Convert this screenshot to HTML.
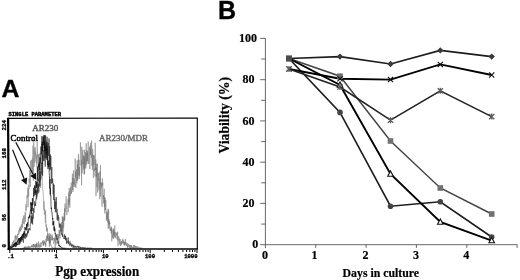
<!DOCTYPE html>
<html><head><meta charset="utf-8"><title>Figure</title>
<style>
html,body{margin:0;padding:0;background:#fff;}
body{width:520px;height:280px;overflow:hidden;}
svg{display:block;}
.se{font-family:"Liberation Serif",serif;}
.sb{font-family:"Liberation Serif",serif;font-weight:bold;}
.sa{font-family:"Liberation Sans",sans-serif;font-weight:bold;}
.mo{font-family:"Liberation Mono",monospace;font-weight:bold;}
</style></head><body>
<svg width="520" height="280" viewBox="0 0 520 280">
<rect width="520" height="280" fill="#fff"/>

<text class="sa" x="1.6" y="97.4" font-size="24.8" fill="#000" stroke="#000" stroke-width="0.35">A</text>
<text class="mo" x="8.5" y="115.9" font-size="6" fill="#000" stroke="#000" stroke-width="0.45" textLength="52.5" lengthAdjust="spacingAndGlyphs">SINGLE PARAMETER</text>
<polyline points="9.0,247.8 9.2,247.9 9.4,247.7 9.6,248.3 9.8,247.2 10.0,246.8 10.2,247.9 10.4,246.8 10.6,246.3 10.8,246.8 11.0,246.1 11.2,245.4 11.4,245.7 11.6,246.3 11.8,246.2 12.0,244.1 12.2,246.6 12.4,242.2 12.6,245.4 12.8,244.5 13.0,242.6 13.2,243.3 13.4,242.2 13.6,240.3 13.8,245.2 14.0,244.7 14.2,241.6 14.4,241.1 14.6,240.8 14.8,239.4 15.0,235.9 15.2,241.9 15.4,240.8 15.6,235.1 15.8,237.8 16.0,235.9 16.2,238.5 16.4,239.9 16.6,236.4 16.8,236.0 17.0,239.2 17.2,236.5 17.4,233.9 17.6,237.2 17.8,235.1 18.0,233.9 18.2,233.9 18.4,235.0 18.6,231.2 18.8,230.4 19.0,230.0 19.2,233.6 19.4,228.8 19.6,231.0 19.8,227.7 20.0,231.1 20.2,226.7 20.4,229.0 20.6,231.7 20.8,228.2 21.0,227.6 21.2,225.3 21.4,230.0 21.6,227.4 21.8,224.0 22.0,226.0 22.2,223.4 22.4,220.7 22.6,228.2 22.8,221.8 23.0,217.8 23.2,222.0 23.4,223.6 23.6,216.3 23.8,217.4 24.0,215.3 24.2,219.1 24.4,224.3 24.6,217.0 24.8,218.3 25.0,212.5 25.2,212.3 25.4,221.5 25.6,216.2 25.8,206.5 26.0,204.4 26.2,210.5 26.4,205.2 26.6,200.8 26.8,198.7 27.0,195.3 27.2,197.7 27.4,198.0 27.6,196.3 27.8,187.8 28.0,207.3 28.2,191.2 28.4,189.0 28.6,196.4 28.8,184.6 29.0,188.7 29.2,178.7 29.4,182.7 29.6,176.6 29.8,170.3 30.0,174.6 30.2,183.9 30.4,186.9 30.6,160.7 30.8,172.7 31.0,176.2 31.2,169.9 31.4,169.9 31.6,159.9 31.8,164.4 32.0,166.5 32.2,170.7 32.4,157.9 32.6,172.1 32.8,155.9 33.0,145.7 33.2,171.6 33.4,180.6 33.6,150.6 33.8,136.3 34.0,163.8 34.2,166.8 34.4,148.3 34.6,162.7 34.8,158.5 35.0,156.4 35.2,147.2 35.4,156.8 35.6,151.6 35.8,154.9 36.0,161.4 36.2,157.3 36.4,163.6 36.6,154.7 36.8,166.7 37.0,165.1 37.2,142.0 37.4,157.6 37.6,157.0 37.8,154.2 38.0,162.7 38.2,161.6 38.4,154.5 38.6,159.4 38.8,171.0 39.0,154.0 39.2,167.8 39.4,172.1 39.6,173.4 39.8,171.1 40.0,152.9 40.2,178.6 40.4,168.0 40.6,188.0 40.8,170.2 41.0,164.3 41.2,176.0 41.4,179.2 41.6,174.9 41.8,173.3 42.0,175.1 42.2,167.9 42.4,181.1 42.6,189.4 42.8,189.6 43.0,190.9 43.2,193.9 43.4,196.7 43.6,198.2 43.8,209.7 44.0,201.3 44.2,208.5 44.4,214.6 44.6,209.0 44.8,208.9 45.0,213.6 45.2,216.7 45.4,223.1 45.6,210.8 45.8,219.0 46.0,227.3 46.2,226.0 46.4,224.4 46.6,231.1 46.8,227.8 47.0,231.6 47.2,227.8 47.4,228.9 47.6,237.9 47.8,233.2 48.0,238.8 48.2,233.6 48.4,237.0 48.6,237.6 48.8,241.1 49.0,236.7 49.2,235.7 49.4,242.6 49.6,239.8 49.8,241.6 50.0,242.5 50.2,243.4 50.4,240.6 50.6,245.5 50.8,244.6 51.0,244.5 51.2,246.1 51.4,246.0 51.6,246.3 51.8,246.1 52.0,247.8 52.2,247.1 52.4,247.7 52.6,247.5 52.8,247.6 53.0,248.1 53.2,248.1 53.4,248.0 53.6,248.2 53.8,248.2 54.0,248.0 54.2,248.1 54.4,247.8 54.6,248.2 54.8,248.1 55.0,248.1 55.2,248.0 55.4,248.0 55.6,248.1 55.8,247.9 56.0,248.3 56.2,247.9 56.4,248.2 56.6,247.9 56.8,248.2 57.0,247.9 57.2,248.2 57.4,248.1 57.6,248.2 57.8,248.2 58.0,247.9 58.2,248.3 58.4,248.2 58.6,248.1 58.8,248.2 59.0,248.3 59.2,248.0 59.4,248.0 59.6,248.1 59.8,248.2 60.0,247.8" fill="none" stroke="#8a8a8a" stroke-width="0.6" stroke-linejoin="miter"/>
<polyline points="10.0,248.3 10.2,248.3 10.4,247.9 10.6,248.3 10.8,247.3 11.0,247.4 11.2,247.8 11.4,247.0 11.6,247.5 11.8,247.5 12.0,246.6 12.2,247.4 12.4,247.2 12.6,247.7 12.8,246.7 13.0,246.6 13.2,246.0 13.4,247.1 13.6,244.9 13.8,247.0 14.0,245.4 14.2,245.8 14.4,245.7 14.6,244.6 14.8,246.5 15.0,243.9 15.2,242.8 15.4,247.1 15.6,245.8 15.8,246.5 16.0,242.3 16.2,244.6 16.4,244.0 16.6,244.7 16.8,244.7 17.0,244.1 17.2,244.6 17.4,243.6 17.6,245.2 17.8,244.0 18.0,242.2 18.2,242.3 18.4,244.2 18.6,244.7 18.8,244.3 19.0,242.3 19.2,243.3 19.4,240.5 19.6,244.6 19.8,241.1 20.0,240.4 20.2,243.3 20.4,241.5 20.6,239.6 20.8,241.6 21.0,239.3 21.2,237.4 21.4,240.4 21.6,241.5 21.8,240.3 22.0,239.0 22.2,238.2 22.4,240.2 22.6,238.9 22.8,238.4 23.0,240.3 23.2,240.5 23.4,242.7 23.6,236.5 23.8,237.8 24.0,235.4 24.2,237.3 24.4,238.0 24.6,235.9 24.8,237.0 25.0,239.1 25.2,238.8 25.4,233.8 25.6,235.9 25.8,234.9 26.0,236.5 26.2,237.5 26.4,233.4 26.6,235.8 26.8,236.7 27.0,234.7 27.2,235.2 27.4,234.3 27.6,231.1 27.8,233.7 28.0,228.8 28.2,232.9 28.4,230.4 28.6,230.9 28.8,230.1 29.0,228.2 29.2,228.8 29.4,229.6 29.6,228.5 29.8,228.9 30.0,230.3 30.2,226.7 30.4,223.1 30.6,221.8 30.8,221.9 31.0,216.6 31.2,220.0 31.4,222.2 31.6,215.3 31.8,223.5 32.0,217.3 32.2,221.4 32.4,216.7 32.6,224.4 32.8,213.1 33.0,216.0 33.2,218.6 33.4,208.2 33.6,210.0 33.8,210.9 34.0,212.8 34.2,209.9 34.4,207.3 34.6,203.4 34.8,201.3 35.0,206.0 35.2,205.2 35.4,203.7 35.6,205.8 35.8,201.4 36.0,198.5 36.2,194.2 36.4,189.8 36.6,199.3 36.8,191.7 37.0,196.4 37.2,181.7 37.4,191.9 37.6,187.8 37.8,193.8 38.0,192.0 38.2,184.8 38.4,187.9 38.6,183.9 38.8,192.5 39.0,179.7 39.2,186.7 39.4,171.1 39.6,181.5 39.8,172.0 40.0,185.8 40.2,174.3 40.4,180.5 40.6,176.5 40.8,171.3 41.0,173.2 41.2,168.3 41.4,163.3 41.6,162.7 41.8,165.8 42.0,174.1 42.2,169.4 42.4,163.2 42.6,175.7 42.8,155.0 43.0,160.7 43.2,160.7 43.4,149.7 43.6,150.8 43.8,152.6 44.0,161.1 44.2,150.2 44.4,149.3 44.6,158.2 44.8,142.5 45.0,146.8 45.2,166.6 45.4,147.8 45.6,158.4 45.8,139.5 46.0,141.0 46.2,158.1 46.4,156.4 46.6,147.6 46.8,149.5 47.0,136.7 47.2,143.1 47.4,150.0 47.6,145.2 47.8,165.0 48.0,146.2 48.2,143.0 48.4,152.1 48.6,155.8 48.8,148.8 49.0,138.5 49.2,153.0 49.4,164.3 49.6,146.1 49.8,170.2 50.0,154.1 50.2,165.2 50.4,155.5 50.6,169.3 50.8,156.1 51.0,166.2 51.2,180.6 51.4,183.6 51.6,174.9 51.8,167.1 52.0,177.8 52.2,178.2 52.4,183.1 52.6,178.6 52.8,181.6 53.0,185.6 53.2,194.4 53.4,183.7 53.6,185.2 53.8,200.0 54.0,184.8 54.2,192.3 54.4,200.7 54.6,209.0 54.8,198.9 55.0,201.4 55.2,206.2 55.4,212.2 55.6,201.8 55.8,208.4 56.0,209.5 56.2,197.0 56.4,200.4 56.6,206.7 56.8,212.8 57.0,209.2 57.2,219.9 57.4,213.0 57.6,216.7 57.8,219.4 58.0,220.9 58.2,215.0 58.4,218.1 58.6,218.8 58.8,217.5 59.0,223.8 59.2,225.4 59.4,227.5 59.6,224.9 59.8,223.4 60.0,226.8 60.2,224.1 60.4,229.7 60.6,229.8 60.8,231.0 61.0,231.1 61.2,225.1 61.4,228.9 61.6,232.4 61.8,234.6 62.0,232.7 62.2,235.4 62.4,233.7 62.6,236.8 62.8,234.6 63.0,236.0 63.2,236.4 63.4,237.8 63.6,237.9 63.8,238.4 64.0,238.9 64.2,237.7 64.4,237.6 64.6,234.4 64.8,236.5 65.0,239.0 65.2,235.8 65.4,239.9 65.6,236.3 65.8,237.7 66.0,240.7 66.2,238.2 66.4,238.1 66.6,243.6 66.8,241.9 67.0,241.1 67.2,243.2 67.4,242.3 67.6,242.1 67.8,240.9 68.0,240.3 68.2,237.5 68.4,243.7 68.6,240.8 68.8,242.7 69.0,243.8 69.2,243.8 69.4,245.5 69.6,244.3 69.8,243.1 70.0,241.5 70.2,242.6 70.4,243.5 70.6,244.8 70.8,243.3 71.0,243.6 71.2,246.0 71.4,245.3 71.6,246.7 71.8,244.5 72.0,245.3 72.2,246.0 72.4,245.3 72.6,244.6 72.8,247.3 73.0,247.0 73.2,247.3 73.4,247.6 73.6,246.5 73.8,244.9 74.0,247.6 74.2,246.6 74.4,246.3 74.6,247.3 74.8,247.2 75.0,246.8 75.2,246.0 75.4,247.3 75.6,246.5 75.8,246.5 76.0,247.7 76.2,247.5 76.4,247.6 76.6,246.5 76.8,246.9 77.0,246.4 77.2,247.2 77.4,246.9 77.6,246.9 77.8,247.2 78.0,245.9 78.2,246.9 78.4,247.6 78.6,248.1 78.8,246.5 79.0,247.4 79.2,247.0 79.4,247.2 79.6,246.6 79.8,246.9 80.0,247.5 80.2,247.2 80.4,247.0 80.6,248.3 80.8,247.3 81.0,247.1 81.2,247.2 81.4,247.4 81.6,247.5 81.8,248.1 82.0,247.5 82.2,247.8 82.4,247.7 82.6,247.8 82.8,247.8 83.0,247.4 83.2,248.1 83.4,247.6 83.6,248.3 83.8,248.3 84.0,247.8 84.2,247.7 84.4,247.7 84.6,248.3 84.8,248.0 85.0,247.9 85.2,247.5 85.4,248.0 85.6,247.9 85.8,248.2 86.0,247.9 86.2,248.2 86.4,248.2 86.6,248.2 86.8,248.1 87.0,248.3 87.2,248.3 87.4,248.0 87.6,247.7 87.8,248.2 88.0,247.9 88.2,248.0 88.4,248.3 88.6,248.2 88.8,248.0 89.0,248.1 89.2,248.3 89.4,248.2 89.6,248.0 89.8,247.9 90.0,248.2 90.2,248.1 90.4,248.2 90.6,248.0 90.8,247.9 91.0,248.1 91.2,248.1 91.4,248.2 91.6,248.0 91.8,248.2 92.0,248.1" fill="none" stroke="#333" stroke-width="0.65" stroke-linejoin="miter"/>
<polyline points="9.0,248.2 9.2,248.2 9.4,248.1 9.6,248.1 9.8,248.1 10.0,247.9 10.2,248.0 10.4,247.7 10.6,247.4 10.8,245.9 11.0,246.8 11.2,247.2 11.4,247.7 11.6,247.3 11.8,247.2 12.0,247.2 12.2,246.7 12.4,246.3 12.6,245.9 12.8,247.0 13.0,246.3 13.2,244.4 13.4,245.5 13.6,245.2 13.8,244.4 14.0,244.6 14.2,244.0 14.4,245.6 14.6,244.6 14.8,242.8 15.0,244.6 15.2,243.7 15.4,243.1 15.6,242.7 15.8,243.4 16.0,242.6 16.2,246.3 16.4,242.5 16.6,243.7 16.8,244.6 17.0,242.3 17.2,240.6 17.4,242.1 17.6,240.8 17.8,240.6 18.0,241.4 18.2,238.7 18.4,239.5 18.6,240.5 18.8,238.1 19.0,240.6 19.2,242.7 19.4,238.3 19.6,238.9 19.8,238.4 20.0,240.2 20.2,239.0 20.4,240.8 20.6,237.9 20.8,237.1 21.0,239.2 21.2,237.4 21.4,238.7 21.6,235.9 21.8,239.4 22.0,238.5 22.2,235.0 22.4,234.1 22.6,237.9 22.8,236.7 23.0,235.6 23.2,235.9 23.4,232.8 23.6,236.5 23.8,233.6 24.0,234.8 24.2,231.1 24.4,232.8 24.6,234.4 24.8,235.4 25.0,227.0 25.2,229.6 25.4,229.1 25.6,228.1 25.8,228.0 26.0,229.8 26.2,230.4 26.4,228.8 26.6,223.9 26.8,229.3 27.0,227.7 27.2,224.9 27.4,223.7 27.6,222.4 27.8,226.3 28.0,226.6 28.2,220.9 28.4,217.6 28.6,217.2 28.8,218.2 29.0,218.4 29.2,216.2 29.4,217.5 29.6,214.8 29.8,217.2 30.0,213.2 30.2,213.4 30.4,210.2 30.6,210.9 30.8,202.3 31.0,205.0 31.2,202.6 31.4,214.4 31.6,208.1 31.8,208.6 32.0,202.9 32.2,211.2 32.4,198.2 32.6,198.3 32.8,205.1 33.0,202.9 33.2,201.7 33.4,197.7 33.6,194.2 33.8,187.9 34.0,196.1 34.2,192.1 34.4,192.5 34.6,185.5 34.8,187.9 35.0,186.7 35.2,195.0 35.4,190.1 35.6,192.9 35.8,180.9 36.0,183.7 36.2,187.5 36.4,188.0 36.6,182.4 36.8,186.7 37.0,186.8 37.2,178.7 37.4,166.6 37.6,178.8 37.8,178.2 38.0,181.1 38.2,180.6 38.4,167.3 38.6,164.2 38.8,167.1 39.0,162.9 39.2,162.7 39.4,162.2 39.6,170.4 39.8,163.8 40.0,157.4 40.2,163.4 40.4,159.9 40.6,159.8 40.8,155.9 41.0,146.5 41.2,154.5 41.4,151.6 41.6,144.4 41.8,145.0 42.0,136.1 42.2,164.0 42.4,141.8 42.6,151.1 42.8,144.9 43.0,139.2 43.2,137.3 43.4,138.5 43.6,145.2 43.8,135.3 44.0,148.7 44.2,147.0 44.4,140.2 44.6,151.1 44.8,135.3 45.0,139.4 45.2,135.3 45.4,145.6 45.6,150.4 45.8,147.3 46.0,145.6 46.2,154.6 46.4,148.8 46.6,153.3 46.8,141.9 47.0,160.0 47.2,148.5 47.4,160.7 47.6,165.1 47.8,164.1 48.0,168.9 48.2,163.9 48.4,160.6 48.6,166.7 48.8,166.4 49.0,163.5 49.2,172.9 49.4,175.4 49.6,180.1 49.8,188.5 50.0,179.0 50.2,194.6 50.4,188.1 50.6,195.9 50.8,195.6 51.0,204.4 51.2,209.0 51.4,207.7 51.6,211.0 51.8,211.8 52.0,211.8 52.2,214.8 52.4,216.2 52.6,219.4 52.8,218.0 53.0,225.3 53.2,221.6 53.4,225.0 53.6,221.1 53.8,221.7 54.0,230.4 54.2,226.4 54.4,226.9 54.6,231.1 54.8,228.5 55.0,231.5 55.2,234.3 55.4,233.5 55.6,233.9 55.8,233.9 56.0,236.7 56.2,234.8 56.4,235.7 56.6,239.4 56.8,238.5 57.0,237.9 57.2,239.9 57.4,237.9 57.6,240.4 57.8,243.3 58.0,243.3 58.2,243.3 58.4,241.6 58.6,244.7 58.8,245.9 59.0,245.2 59.2,245.4 59.4,245.1 59.6,246.5 59.8,246.0 60.0,246.3 60.2,246.9 60.4,247.0 60.6,246.4 60.8,247.0 61.0,247.3 61.2,247.9 61.4,247.9 61.6,247.5 61.8,247.7 62.0,247.9 62.2,248.1 62.4,247.7 62.6,248.3 62.8,248.3 63.0,248.1 63.2,248.1 63.4,248.2 63.6,247.9 63.8,247.9 64.0,248.3 64.2,248.0 64.4,248.1 64.6,248.2 64.8,248.0 65.0,248.1 65.2,247.9 65.4,248.0 65.6,248.3 65.8,248.1 66.0,247.9" fill="none" stroke="#0c0c0c" stroke-width="0.65" stroke-linejoin="miter"/>
<polyline points="22.0,248.1 22.2,247.9 22.4,247.9 22.6,248.1 22.8,248.3 23.0,248.0 23.2,248.3 23.4,248.0 23.6,248.1 23.8,247.9 24.0,247.9 24.2,247.0 24.4,248.0 24.6,247.4 24.8,248.3 25.0,246.2 25.2,248.3 25.4,247.1 25.6,247.6 25.8,248.3 26.0,248.1 26.2,248.1 26.4,247.0 26.6,247.6 26.8,246.5 27.0,248.3 27.2,248.1 27.4,248.3 27.6,246.8 27.8,248.3 28.0,247.7 28.2,247.2 28.4,248.3 28.6,246.5 28.8,247.2 29.0,245.9 29.2,246.6 29.4,248.2 29.6,248.3 29.8,247.3 30.0,246.1 30.2,246.5 30.4,248.0 30.6,247.6 30.8,247.5 31.0,247.1 31.2,247.1 31.4,247.4 31.6,244.9 31.8,246.9 32.0,246.3 32.2,245.8 32.4,247.0 32.6,247.2 32.8,246.6 33.0,244.4 33.2,248.3 33.4,244.0 33.6,246.5 33.8,245.9 34.0,243.9 34.2,245.8 34.4,244.8 34.6,247.2 34.8,246.8 35.0,245.9 35.2,247.8 35.4,244.2 35.6,246.9 35.8,248.3 36.0,244.0 36.2,245.9 36.4,247.3 36.6,243.6 36.8,246.8 37.0,242.4 37.2,246.1 37.4,245.0 37.6,247.7 37.8,248.3 38.0,247.5 38.2,245.0 38.4,244.1 38.6,241.5 38.8,247.1 39.0,243.5 39.2,245.4 39.4,246.3 39.6,245.5 39.8,248.3 40.0,246.8 40.2,246.3 40.4,245.6 40.6,246.5 40.8,242.3 41.0,247.0 41.2,244.7 41.4,243.1 41.6,243.6 41.8,244.0 42.0,243.9 42.2,243.1 42.4,240.6 42.6,241.5 42.8,243.3 43.0,241.3 43.2,245.9 43.4,242.8 43.6,245.4 43.8,240.0 44.0,244.6 44.2,243.6 44.4,241.2 44.6,242.8 44.8,242.8 45.0,242.1 45.2,244.0 45.4,245.4 45.6,242.8 45.8,246.8 46.0,238.5 46.2,242.4 46.4,242.1 46.6,235.7 46.8,235.5 47.0,241.0 47.2,240.7 47.4,237.0 47.6,236.1 47.8,240.7 48.0,239.9 48.2,238.3 48.4,238.8 48.6,238.3 48.8,239.0 49.0,241.7 49.2,242.2 49.4,246.9 49.6,238.9 49.8,233.2 50.0,243.7 50.2,235.2 50.4,234.4 50.6,238.8 50.8,240.8 51.0,237.3 51.2,240.1 51.4,237.5 51.6,237.1 51.8,235.4 52.0,234.5 52.2,240.0 52.4,235.6 52.6,240.4 52.8,238.6 53.0,238.4 53.2,238.1 53.4,238.8 53.6,237.9 53.8,243.8 54.0,241.8 54.2,240.9 54.4,238.7 54.6,240.5 54.8,237.3 55.0,239.6 55.2,248.3 55.4,243.4 55.6,236.3 55.8,241.1 56.0,242.1 56.2,244.5 56.4,236.5 56.6,236.2 56.8,237.1 57.0,239.7 57.2,233.9 57.4,235.2 57.6,241.8 57.8,236.1 58.0,238.4 58.2,238.2 58.4,234.4 58.6,235.6 58.8,245.4 59.0,229.8 59.2,231.8 59.4,234.5 59.6,235.8 59.8,230.5 60.0,238.3 60.2,229.7 60.4,230.9 60.6,232.4 60.8,232.5 61.0,231.8 61.2,223.8 61.4,222.1 61.6,224.3 61.8,225.3 62.0,231.3 62.2,220.7 62.4,216.2 62.6,232.1 62.8,216.9 63.0,233.2 63.2,223.1 63.4,217.8 63.6,227.9 63.8,225.4 64.0,216.4 64.2,213.1 64.4,221.1 64.6,208.3 64.8,220.0 65.0,203.5 65.2,212.3 65.4,209.7 65.6,208.5 65.8,208.7 66.0,199.6 66.2,196.4 66.4,204.2 66.6,209.4 66.8,215.1 67.0,211.9 67.2,205.6 67.4,205.3 67.6,204.8 67.8,204.7 68.0,199.3 68.2,212.1 68.4,208.7 68.6,192.7 68.8,194.0 69.0,205.3 69.2,188.1 69.4,202.2 69.6,197.6 69.8,207.7 70.0,191.0 70.2,196.2 70.4,187.0 70.6,188.3 70.8,193.5 71.0,192.1 71.2,182.5 71.4,193.8 71.6,192.1 71.8,189.0 72.0,183.9 72.2,181.4 72.4,173.8 72.6,189.9 72.8,177.9 73.0,191.9 73.2,181.5 73.4,184.2 73.6,170.4 73.8,178.8 74.0,186.8 74.2,178.4 74.4,179.4 74.6,184.3 74.8,183.7 75.0,186.7 75.2,158.4 75.4,177.6 75.6,171.6 75.8,188.0 76.0,185.4 76.2,178.0 76.4,175.8 76.6,169.2 76.8,183.4 77.0,169.8 77.2,160.2 77.4,180.9 77.6,164.5 77.8,179.8 78.0,166.8 78.2,166.9 78.4,154.1 78.6,175.4 78.8,167.5 79.0,159.7 79.2,178.9 79.4,167.1 79.6,176.3 79.8,172.1 80.0,160.2 80.2,160.1 80.4,142.4 80.6,151.8 80.8,152.5 81.0,165.5 81.2,165.1 81.4,160.2 81.6,185.3 81.8,146.7 82.0,169.4 82.2,173.2 82.4,166.5 82.6,152.4 82.8,149.8 83.0,164.7 83.2,155.2 83.4,160.4 83.6,169.5 83.8,156.6 84.0,158.9 84.2,174.5 84.4,149.8 84.6,174.1 84.8,156.3 85.0,167.6 85.2,165.2 85.4,164.6 85.6,152.2 85.8,168.7 86.0,159.1 86.2,143.3 86.4,164.7 86.6,156.9 86.8,150.0 87.0,161.4 87.2,153.0 87.4,161.0 87.6,151.2 87.8,155.6 88.0,163.9 88.2,141.5 88.4,157.7 88.6,158.0 88.8,163.8 89.0,159.9 89.2,158.0 89.4,153.1 89.6,147.3 89.8,169.0 90.0,160.8 90.2,145.5 90.4,155.2 90.6,152.4 90.8,142.8 91.0,153.5 91.2,151.6 91.4,157.9 91.6,140.6 91.8,147.9 92.0,166.0 92.2,154.0 92.4,170.0 92.6,148.8 92.8,151.7 93.0,160.2 93.2,164.7 93.4,178.0 93.6,155.0 93.8,164.9 94.0,163.9 94.2,155.5 94.4,171.1 94.6,169.1 94.8,168.4 95.0,176.6 95.2,142.7 95.4,167.2 95.6,170.0 95.8,159.5 96.0,196.2 96.2,167.8 96.4,168.3 96.6,176.8 96.8,163.7 97.0,187.3 97.2,169.7 97.4,163.7 97.6,192.5 97.8,183.1 98.0,173.8 98.2,172.9 98.4,180.4 98.6,173.6 98.8,172.7 99.0,190.3 99.2,178.6 99.4,189.6 99.6,196.4 99.8,199.3 100.0,171.4 100.2,184.4 100.4,165.2 100.6,196.7 100.8,186.0 101.0,182.1 101.2,187.6 101.4,183.0 101.6,187.6 101.8,193.3 102.0,206.7 102.2,197.1 102.4,178.4 102.6,185.8 102.8,182.8 103.0,196.9 103.2,196.5 103.4,203.5 103.6,195.0 103.8,198.9 104.0,196.8 104.2,188.7 104.4,207.1 104.6,197.3 104.8,213.5 105.0,197.5 105.2,209.9 105.4,208.4 105.6,210.0 105.8,200.0 106.0,211.4 106.2,212.3 106.4,220.8 106.6,211.4 106.8,219.3 107.0,219.1 107.2,215.4 107.4,212.4 107.6,222.4 107.8,216.2 108.0,208.8 108.2,228.8 108.4,212.2 108.6,209.7 108.8,224.3 109.0,219.3 109.2,228.4 109.4,221.0 109.6,224.1 109.8,222.8 110.0,230.4 110.2,230.8 110.4,228.7 110.6,229.8 110.8,230.7 111.0,226.5 111.2,233.5 111.4,229.2 111.6,227.3 111.8,241.3 112.0,228.8 112.2,233.5 112.4,235.1 112.6,238.0 112.8,235.3 113.0,235.2 113.2,230.0 113.4,239.1 113.6,228.3 113.8,235.4 114.0,231.3 114.2,230.4 114.4,237.6 114.6,230.2 114.8,225.5 115.0,235.9 115.2,232.1 115.4,236.1 115.6,237.4 115.8,236.1 116.0,238.6 116.2,233.4 116.4,234.1 116.6,235.4 116.8,232.3 117.0,233.0 117.2,234.2 117.4,240.2 117.6,231.6 117.8,234.1 118.0,246.1 118.2,240.8 118.4,241.3 118.6,237.9 118.8,236.3 119.0,240.5 119.2,239.2 119.4,238.6 119.6,244.5 119.8,241.1 120.0,241.2 120.2,239.0 120.4,242.1 120.6,246.2 120.8,243.4 121.0,241.7 121.2,245.2 121.4,243.3 121.6,240.8 121.8,244.2 122.0,243.5 122.2,242.4 122.4,243.2 122.6,243.1 122.8,238.8 123.0,242.9 123.2,240.1 123.4,242.5 123.6,243.1 123.8,241.2 124.0,245.0 124.2,242.4 124.4,245.6 124.6,242.2 124.8,245.3 125.0,243.6 125.2,241.6 125.4,238.9 125.6,243.4 125.8,244.8 126.0,242.0 126.2,243.9 126.4,245.7 126.6,244.8 126.8,245.2 127.0,245.6 127.2,243.0 127.4,248.0 127.6,244.9 127.8,245.1 128.0,245.0 128.2,247.2 128.4,244.3 128.6,243.9 128.8,244.8 129.0,244.6 129.2,247.6 129.4,247.2 129.6,244.9 129.8,248.2 130.0,247.8 130.2,248.3 130.4,246.4 130.6,246.5 130.8,245.0 131.0,248.3 131.2,245.1 131.4,248.0 131.6,245.8 131.8,245.7 132.0,247.3 132.2,247.2 132.4,247.0 132.6,247.2 132.8,247.8 133.0,247.1 133.2,246.9 133.4,248.3 133.6,245.0 133.8,246.4 134.0,248.3 134.2,248.3 134.4,245.1 134.6,245.0 134.8,246.8 135.0,248.3 135.2,247.7 135.4,246.0 135.6,246.9 135.8,247.4 136.0,248.1 136.2,246.2 136.4,247.7 136.6,247.5 136.8,247.1 137.0,246.1 137.2,247.2 137.4,247.6 137.6,248.3 137.8,247.0 138.0,247.2 138.2,248.1 138.4,248.3 138.6,248.1 138.8,248.0 139.0,246.9 139.2,248.2 139.4,248.1 139.6,248.2 139.8,248.1 140.0,247.9 140.2,248.2 140.4,247.9 140.6,248.3 140.8,247.8 141.0,248.1 141.2,247.7 141.4,248.3 141.6,248.3 141.8,248.0 142.0,248.2 142.2,248.1 142.4,248.3 142.6,248.2 142.8,248.1 143.0,248.2" fill="none" stroke="#6a6a6a" stroke-width="0.45" stroke-linejoin="miter"/>
<path d="M8,118.3 L197.3,118 V249" fill="none" stroke="#000" stroke-width="1.15"/>
<path d="M8.1,117.8 L8.8,250" fill="none" stroke="#000" stroke-width="2.2"/><path d="M7.5,249.1 H198" fill="none" stroke="#000" stroke-width="1.5"/>
<path d="M9.8,250 v3 M23.9,250 v2 M32.1,250 v2 M38.0,250 v2 M42.5,250 v2 M46.2,250 v2 M49.4,250 v2 M52.1,250 v2 M54.5,250 v2 M56.6,250 v3 M70.7,250 v2 M78.9,250 v2 M84.8,250 v2 M89.3,250 v2 M93.0,250 v2 M96.2,250 v2 M98.9,250 v2 M101.3,250 v2 M103.4,250 v3 M117.5,250 v2 M125.7,250 v2 M131.6,250 v2 M136.1,250 v2 M139.8,250 v2 M143.0,250 v2 M145.7,250 v2 M148.1,250 v2 M150.2,250 v3 M164.3,250 v2 M172.5,250 v2 M178.4,250 v2 M182.9,250 v2 M186.6,250 v2 M189.8,250 v2 M192.5,250 v2 M194.9,250 v2 M197.0,250 v3" stroke="#000" stroke-width="1" fill="none"/>
<text class="mo" x="7.2" y="257.8" font-size="5.6" text-anchor="start" fill="#000" stroke="#000" stroke-width="0.3">.1</text>
<text class="mo" x="54.6" y="257.8" font-size="5.6" text-anchor="start" fill="#000" stroke="#000" stroke-width="0.3">1</text>
<text class="mo" x="102" y="257.8" font-size="5.6" text-anchor="start" fill="#000" stroke="#000" stroke-width="0.3">10</text>
<text class="mo" x="145" y="257.8" font-size="5.6" text-anchor="start" fill="#000" stroke="#000" stroke-width="0.3">100</text>
<text class="mo" x="197.6" y="257.8" font-size="5.6" text-anchor="end" fill="#000" stroke="#000" stroke-width="0.3">1000</text>
<text class="mo" transform="translate(5.8,130.5) rotate(-90)" font-size="5.8" fill="#000" stroke="#000" stroke-width="0.3">224</text>
<text class="mo" transform="translate(5.8,158.5) rotate(-90)" font-size="5.8" fill="#000" stroke="#000" stroke-width="0.3">168</text>
<text class="mo" transform="translate(5.8,190) rotate(-90)" font-size="5.8" fill="#000" stroke="#000" stroke-width="0.3">112</text>
<text class="mo" transform="translate(5.8,221) rotate(-90)" font-size="5.8" fill="#000" stroke="#000" stroke-width="0.3">56</text>
<text class="mo" transform="translate(5.8,247.5) rotate(-90)" font-size="5.8" fill="#000" stroke="#000" stroke-width="0.3">0</text>
<text class="se" x="32.3" y="131.2" font-size="9" fill="#555" stroke="#555" stroke-width="0.4">AR230</text>
<text class="se" x="10.6" y="141" font-size="9" fill="#000" stroke="#000" stroke-width="0.45">Control</text>
<text class="se" x="99" y="141" font-size="9" fill="#666" stroke="#666" stroke-width="0.4">AR230/MDR</text>
<path d="M15.8,142.4 L33.1,174.3" stroke="#111" stroke-width="1.2" fill="none"/><path d="M36.2,180 L30.2,175.9 L36.0,172.7Z" fill="#111"/>
<path d="M12.6,149.7 L24.1,178.8" stroke="#111" stroke-width="1.2" fill="none"/><path d="M26.5,184.8 L21.0,180.0 L27.2,177.5Z" fill="#111"/>
<text class="sb" x="55.2" y="276.2" font-size="13.7" fill="#000" stroke="#000" stroke-width="0.2" textLength="84" lengthAdjust="spacingAndGlyphs">Pgp expression</text>
<text class="sa" x="217.9" y="19" font-size="25" fill="#000" stroke="#000" stroke-width="0.35">B</text>
<path d="M265.4,38 V248 M264.9,244.7 H517.3" stroke="#585858" stroke-width="0.9" fill="none"/>
<path d="M260.2,244.7 H265.4 M261.2,224.1 H265.4 M260.2,203.4 H265.4 M261.2,182.8 H265.4 M260.2,162.2 H265.4 M261.2,141.6 H265.4 M260.2,120.9 H265.4 M261.2,100.3 H265.4 M260.2,79.7 H265.4 M261.2,59.0 H265.4 M260.2,38.4 H265.4 M315.7,244.7 v3.2 M366.1,244.7 v3.2 M416.4,244.7 v3.2 M466.8,244.7 v3.2 M517.1,244.7 v3.2" stroke="#585858" stroke-width="0.9" fill="none"/>
<text class="sb" x="258.2" y="248.3" font-size="12" text-anchor="end" fill="#000" stroke="#000" stroke-width="0.2">0</text>
<text class="sb" x="254.4" y="207.0" font-size="12" text-anchor="end" fill="#000" stroke="#000" stroke-width="0.2">20</text>
<text class="sb" x="254.4" y="165.8" font-size="12" text-anchor="end" fill="#000" stroke="#000" stroke-width="0.2">40</text>
<text class="sb" x="254.4" y="124.5" font-size="12" text-anchor="end" fill="#000" stroke="#000" stroke-width="0.2">60</text>
<text class="sb" x="254.4" y="83.3" font-size="12" text-anchor="end" fill="#000" stroke="#000" stroke-width="0.2">80</text>
<text class="sb" x="257.0" y="42.0" font-size="12" text-anchor="end" fill="#000" stroke="#000" stroke-width="0.2">100</text>
<text class="sb" x="264.9" y="259.3" font-size="12" text-anchor="middle" fill="#000" stroke="#000" stroke-width="0.2">0</text>
<text class="sb" x="314.5" y="259.3" font-size="12" text-anchor="middle" fill="#000" stroke="#000" stroke-width="0.2">1</text>
<text class="sb" x="365.6" y="259.3" font-size="12" text-anchor="middle" fill="#000" stroke="#000" stroke-width="0.2">2</text>
<text class="sb" x="415.9" y="259.3" font-size="12" text-anchor="middle" fill="#000" stroke="#000" stroke-width="0.2">3</text>
<text class="sb" x="466.3" y="259.3" font-size="12" text-anchor="middle" fill="#000" stroke="#000" stroke-width="0.2">4</text>
<text class="sb" x="342.6" y="276.8" font-size="11.9" fill="#000" stroke="#000" stroke-width="0.2" textLength="76.4" lengthAdjust="spacingAndGlyphs">Days in culture</text>
<text class="sb" transform="translate(228.6,153.6) rotate(-90)" font-size="13.7" fill="#000" stroke="#000" stroke-width="0.2">Viability (%)</text>
<polyline points="289,58.5 340,76.2 390.5,141 440.3,188 491.7,214" fill="none" stroke="#444" stroke-width="1.45"/>
<polyline points="289,58.5 340,112.4 390.5,206.2 440.3,201.8 491.7,237" fill="none" stroke="#1c1c1c" stroke-width="1.65"/>
<polyline points="289,58.5 340,85 390.5,174 440.3,222 491.7,240.6" fill="none" stroke="#000" stroke-width="1.9"/>
<polyline points="289,69 340,78.8 390.5,79.6 440.3,64.4 491.7,75" fill="none" stroke="#000" stroke-width="1.9"/>
<polyline points="289,69 340,87 390.5,120.2 440.3,90.8 491.7,116.6" fill="none" stroke="#222" stroke-width="1.55"/>
<polyline points="289,58.5 340,56.6 390.5,64 440.3,50.4 491.7,56.6" fill="none" stroke="#1c1c1c" stroke-width="1.65"/>
<rect x="286.2" y="55.7" width="5.6" height="5.6" fill="#707070"/>
<rect x="337.2" y="73.4" width="5.6" height="5.6" fill="#707070"/>
<rect x="387.7" y="138.2" width="5.6" height="5.6" fill="#707070"/>
<rect x="437.5" y="185.2" width="5.6" height="5.6" fill="#707070"/>
<rect x="488.9" y="211.2" width="5.6" height="5.6" fill="#707070"/>
<circle cx="340" cy="112.4" r="2.8" fill="#444"/>
<circle cx="390.5" cy="206.2" r="2.8" fill="#444"/>
<circle cx="440.3" cy="201.8" r="2.8" fill="#444"/>
<circle cx="491.7" cy="237" r="2.8" fill="#444"/>
<path d="M337.2,87.2 L340,82.0 L342.8,87.2Z" fill="#fff" stroke="#111" stroke-width="1.1"/>
<path d="M387.7,176.2 L390.5,171.0 L393.3,176.2Z" fill="#fff" stroke="#111" stroke-width="1.1"/>
<path d="M437.5,224.2 L440.3,219.0 L443.1,224.2Z" fill="#fff" stroke="#111" stroke-width="1.1"/>
<path d="M488.9,242.79999999999998 L491.7,237.6 L494.5,242.79999999999998Z" fill="#fff" stroke="#111" stroke-width="1.1"/>
<path d="M286.4,66.4 L291.6,71.6 M286.4,71.6 L291.6,66.4" stroke="#111" stroke-width="1.1" fill="none"/>
<path d="M337.4,76.2 L342.6,81.39999999999999 M337.4,81.39999999999999 L342.6,76.2" stroke="#111" stroke-width="1.1" fill="none"/>
<path d="M387.9,77.0 L393.1,82.19999999999999 M387.9,82.19999999999999 L393.1,77.0" stroke="#111" stroke-width="1.1" fill="none"/>
<path d="M437.7,61.800000000000004 L442.90000000000003,67.0 M437.7,67.0 L442.90000000000003,61.800000000000004" stroke="#111" stroke-width="1.1" fill="none"/>
<path d="M489.09999999999997,72.4 L494.3,77.6 M489.09999999999997,77.6 L494.3,72.4" stroke="#111" stroke-width="1.1" fill="none"/>
<path d="M286.4,66.4 L291.6,71.6 M286.4,71.6 L291.6,66.4 M289,66.0 L289,72.0" stroke="#5a5a5a" stroke-width="1.25" fill="none"/>
<path d="M337.4,84.4 L342.6,89.6 M337.4,89.6 L342.6,84.4 M340,84.0 L340,90.0" stroke="#5a5a5a" stroke-width="1.25" fill="none"/>
<path d="M387.9,117.60000000000001 L393.1,122.8 M387.9,122.8 L393.1,117.60000000000001 M390.5,117.2 L390.5,123.2" stroke="#5a5a5a" stroke-width="1.25" fill="none"/>
<path d="M437.7,88.2 L442.90000000000003,93.39999999999999 M437.7,93.39999999999999 L442.90000000000003,88.2 M440.3,87.8 L440.3,93.8" stroke="#5a5a5a" stroke-width="1.25" fill="none"/>
<path d="M489.09999999999997,114.0 L494.3,119.19999999999999 M489.09999999999997,119.19999999999999 L494.3,114.0 M491.7,113.6 L491.7,119.6" stroke="#5a5a5a" stroke-width="1.25" fill="none"/>
<path d="M336.8,56.6 L340,53.4 L343.2,56.6 L340,59.800000000000004Z" fill="#3a3a3a"/>
<path d="M387.3,64 L390.5,60.8 L393.7,64 L390.5,67.2Z" fill="#3a3a3a"/>
<path d="M437.1,50.4 L440.3,47.199999999999996 L443.5,50.4 L440.3,53.6Z" fill="#3a3a3a"/>
<path d="M488.5,56.6 L491.7,53.4 L494.9,56.6 L491.7,59.800000000000004Z" fill="#3a3a3a"/>
<rect x="286" y="55.5" width="6" height="6" fill="#4a4a4a"/>
</svg></body></html>
